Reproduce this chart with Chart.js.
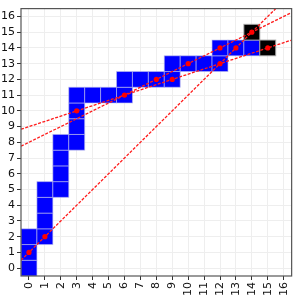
<!DOCTYPE html>
<html>
<head>
    <meta charset="UTF-8">
    <script src="https://cdn.jsdelivr.net/npm/chart.js"></script>
    <style>
        body { margin: 0; background: #fff; }
    </style>
</head>
<body>
    <canvas id="gridChart" width="299" height="297"></canvas>
    <script>
        // cells of the path (blue) and the end cells (black)
        const blueX = [0, 0, 0, 1, 1, 1, 1, 2, 2, 2, 2, 3, 3, 3, 3, 4, 5, 6, 6, 7, 8, 9, 9, 10, 11, 12, 12, 13, 14];
        const blueY = [0, 1, 2, 2, 3, 4, 5, 5, 6, 7, 8, 8, 9, 10, 11, 11, 11, 11, 12, 12, 12, 12, 13, 13, 13, 13, 14, 14, 14];
        const blackX = [14, 15];
        const blackY = [15, 14];

        // red points
        const pointX = [0, 1, 3, 6, 8, 9, 10, 12, 12, 13, 14, 15];
        const pointY = [1, 2, 10, 11, 12, 12, 13, 13, 14, 14, 15, 14];

        // dashed lines, end points
        const lineAX = [-0.5, 16.5], lineAY = [0.5, 17.5];
        const lineBX = [-0.5, 16.5], lineBY = [8.83, 14.5];
        const lineCX = [-0.5, 16.5], lineCY = [7.75, 16.25];

        const tickValues = [0, 1, 2, 3, 4, 5, 6, 7, 8, 9, 10, 11, 12, 13, 14, 15, 16];

        function toXY(xs, ys) {
            return xs.map((x, i) => ({ x: x, y: ys[i] }));
        }

        const cellsPlugin = {
            id: 'cells',
            beforeDatasetsDraw(chart) {
                const ctx = chart.ctx;
                const xs = chart.scales.x;
                const ys = chart.scales.y;
                const area = chart.chartArea;
                ctx.save();
                ctx.beginPath();
                ctx.rect(area.left, area.top, area.right - area.left, area.bottom - area.top);
                ctx.clip();
                function drawCells(cx, cy, fill, edge) {
                    for (let i = 0; i < cx.length; i++) {
                        const x0 = xs.getPixelForValue(cx[i] - 0.5);
                        const x1 = xs.getPixelForValue(cx[i] + 0.5);
                        const y0 = ys.getPixelForValue(cy[i] + 0.5);
                        const y1 = ys.getPixelForValue(cy[i] - 0.5);
                        ctx.fillStyle = fill;
                        ctx.fillRect(x0, y0, x1 - x0, y1 - y0);
                        ctx.strokeStyle = edge;
                        ctx.lineWidth = 1;
                        ctx.strokeRect(x0, y0, x1 - x0, y1 - y0);
                    }
                }
                drawCells(blueX, blueY, '#0000ff', 'rgba(190,190,235,0.6)');
                drawCells(blackX, blackY, '#000000', 'rgba(170,170,170,0.9)');
                ctx.restore();
            },
            afterDraw(chart) {
                const ctx = chart.ctx;
                const a = chart.chartArea;
                ctx.save();
                ctx.strokeStyle = '#555';
                ctx.lineWidth = 1.2;
                ctx.strokeRect(a.left, a.top, a.right - a.left, a.bottom - a.top);
                ctx.restore();
            }
        };

        const dashedLine = (xs, ys) => ({
            type: 'line',
            data: toXY(xs, ys),
            borderColor: '#ff1a1a',
            borderWidth: 1.3,
            borderDash: [3, 1.5],
            pointRadius: 0,
            fill: false
        });

        const axisTicks = {
            font: { family: 'DejaVu Sans', size: 11 },
            color: '#111',
            padding: 2
        };

        new Chart(document.getElementById('gridChart'), {
            type: 'scatter',
            data: {
                datasets: [
                    {
                        data: toXY(pointX, pointY),
                        backgroundColor: '#ff0000',
                        borderWidth: 0,
                        pointRadius: 2.6,
                        order: 0
                    },
                    Object.assign(dashedLine(lineAX, lineAY), { order: 1 }),
                    Object.assign(dashedLine(lineBX, lineBY), { order: 1 }),
                    Object.assign(dashedLine(lineCX, lineCY), { order: 1 })
                ]
            },
            options: {
                responsive: false,
                animation: false,
                layout: { padding: { top: 4, right: 4, left: 0, bottom: 0 } },
                plugins: { legend: { display: false }, tooltip: { enabled: false } },
                scales: {
                    x: {
                        type: 'linear',
                        min: -0.5,
                        max: 16.5,
                        afterBuildTicks: s => { s.ticks = tickValues.map(v => ({ value: v })); },
                        afterFit: s => { s.height = 21; },
                        ticks: Object.assign({ minRotation: 90, maxRotation: 90, autoSkip: false }, axisTicks),
                        grid: { color: '#eeeeee', tickColor: '#333', tickLength: 4 },
                        border: { display: false }
                    },
                    y: {
                        type: 'linear',
                        min: -0.5,
                        max: 16.5,
                        afterBuildTicks: s => { s.ticks = tickValues.map(v => ({ value: v })); },
                        afterFit: s => { s.width = 21; },
                        ticks: Object.assign({ autoSkip: false }, axisTicks),
                        grid: { color: '#eeeeee', tickColor: '#333', tickLength: 4 },
                        border: { display: false }
                    }
                }
            },
            plugins: [cellsPlugin]
        });
    </script>
</body>
</html>
